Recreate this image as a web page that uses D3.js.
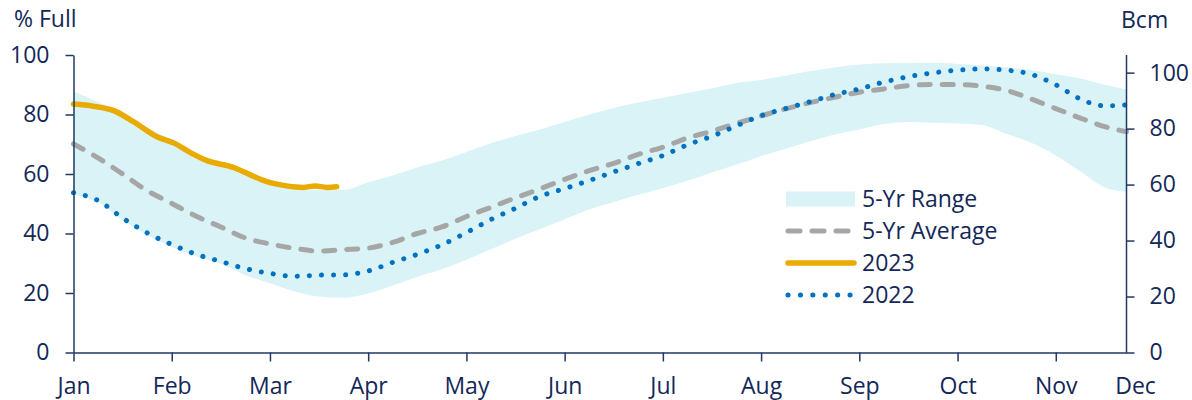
<!DOCTYPE html>
<html>
<head>
<meta charset="utf-8">
<script src="https://cdn.jsdelivr.net/npm/d3@7"></script>
<style>
  body { margin: 0; background: #fff; }
  text { font-family: "Open Sans", "Noto Sans", sans-serif; }
</style>
</head>
<body>
<svg id="chart" width="1192" height="400"></svg>
<script>
var months = ["Jan", "Feb", "Mar", "Apr", "May", "Jun", "Jul", "Aug", "Sep", "Oct", "Nov", "Dec"];

// position in months from 1 Jan (roughly weekly)
var weekPos = [0, 0.25, 0.5, 0.75, 1, 1.25, 1.5, 1.75, 2, 2.25, 2.5, 2.75, 3, 3.25, 3.5, 3.75,
    4, 4.25, 4.5, 4.75, 5, 5.25, 5.5, 5.75, 6, 6.25, 6.5, 6.75, 7, 7.25, 7.5, 7.75,
    8, 8.25, 8.5, 8.75, 9, 9.25, 9.5, 9.75, 10, 10.25, 10.5, 10.72];

var rangeLow = [53.0, 50.5, 44.5, 39.5, 35.5, 32.3, 29.8, 26.0, 23.3, 20.6, 18.8, 18.4, 19.8, 22.5, 25.5, 28.0,
    31.2, 34.7, 38.2, 41.5, 44.8, 48.1, 50.6, 53.0, 55.2, 57.7, 60.5, 63.2, 66.0, 68.5, 71.0, 73.3,
    75.0, 76.8, 77.5, 77.2, 77.0, 76.5, 73.5, 70.5, 66.3, 60.8, 55.5, 54.0];

var rangeHigh = [87.7, 84.2, 80.3, 75.6, 71.5, 67.0, 64.0, 61.0, 57.8, 55.5, 54.5, 54.6, 57.2, 59.5, 62.2, 64.5,
    67.4, 70.3, 72.8, 75.0, 77.5, 80.0, 82.2, 84.0, 85.6, 87.2, 88.8, 90.6, 91.6, 93.0, 94.6, 95.8,
    96.8, 97.2, 97.3, 97.4, 97.0, 96.5, 95.8, 95.0, 93.5, 92.1, 90.0, 88.4];

var avg5 = [70.1, 65.4, 60.0, 54.4, 50.1, 45.8, 42.2, 38.5, 36.5, 35.0, 34.1, 34.6, 35.1, 37.0, 40.0, 42.2,
    45.7, 48.8, 52.0, 55.0, 58.2, 61.1, 63.6, 66.6, 69.0, 72.1, 74.4, 77.0, 79.5, 81.9, 84.0, 85.8,
    87.5, 88.6, 89.7, 90.1, 90.1, 89.5, 88.1, 85.2, 82.0, 78.8, 75.9, 74.2];

var y2022 = [53.7, 51.1, 45.2, 40.2, 36.3, 33.0, 30.6, 28.2, 26.6, 25.6, 26.0, 26.1, 27.4, 30.3, 33.0, 36.2,
    40.3, 44.7, 48.5, 52.5, 55.1, 57.8, 60.7, 63.5, 66.2, 69.8, 72.7, 76.2, 79.6, 82.0, 84.3, 86.7,
    88.6, 90.9, 92.7, 94.0, 94.9, 95.3, 94.9, 93.5, 90.0, 85.2, 82.9, 83.2];

var pos2023 = [0, 0.2, 0.41, 0.61, 0.85, 1.03, 1.19, 1.36, 1.63, 1.8, 1.97, 2.17, 2.34, 2.46, 2.58, 2.68];
var y2023 = [83.5, 82.8, 81.3, 77.6, 72.5, 70.3, 67.2, 64.5, 62.2, 59.7, 57.4, 56.0, 55.5, 56.0, 55.5, 55.7];

var pctTicks = [0, 20, 40, 60, 80, 100];
var bcmTicks = [0, 20, 40, 60, 80, 100];
var legendNames = ["5-Yr Range", "5-Yr Average", "2023", "2022"];

var navy = "#1F3864",
    textColor = "#132858",
    fontSize = 23;

var svg = d3.select("#chart");

var x = d3.scaleLinear().domain([0, 10.72]).range([73.5, 1126.5]);
var y = d3.scaleLinear().domain([0, 100]).range([352.5, 55]);
var yBcm = d3.scaleLinear().domain([0, 106.3]).range([352.5, 55]);

// band
svg.append("path")
    .datum(weekPos)
    .attr("fill", "#D9F3F7")
    .attr("d", d3.area()
        .curve(d3.curveMonotoneX)
        .x(function (d) { return x(d); })
        .y0(function (d, i) { return y(rangeLow[i]); })
        .y1(function (d, i) { return y(rangeHigh[i]); }));

var line = d3.line()
    .curve(d3.curveMonotoneX)
    .x(function (d) { return x(d[0]); })
    .y(function (d) { return y(d[1]); });

svg.append("path")
    .datum(d3.zip(weekPos, avg5))
    .attr("fill", "none")
    .attr("stroke", "#A6A6A6")
    .attr("stroke-width", 5)
    .attr("stroke-linecap", "round")
    .attr("stroke-dasharray", "11,12")
    .attr("d", line);

svg.append("path")
    .datum(d3.zip(pos2023, y2023))
    .attr("fill", "none")
    .attr("stroke", "#E9AB00")
    .attr("stroke-width", 5.5)
    .attr("stroke-linecap", "round")
    .attr("d", line);

svg.append("path")
    .datum(d3.zip(weekPos, y2022))
    .attr("fill", "none")
    .attr("stroke", "#0070C0")
    .attr("stroke-width", 5)
    .attr("stroke-linecap", "round")
    .attr("stroke-dasharray", "0.1,12")
    .attr("d", line);

// axes
var xAxis = svg.append("g")
    .attr("transform", "translate(0," + y(0) + ")")
    .call(d3.axisBottom(x)
        .tickValues(d3.range(0, 11))
        .tickFormat(function (d) { return months[d]; })
        .tickSize(9)
        .tickSizeOuter(0)
        .tickPadding(16));

xAxis.append("text")
    .attr("x", x.range()[1] + 9)
    .attr("y", 25)
    .attr("dy", "0.71em")
    .attr("text-anchor", "middle")
    .text(months[11]);

var leftAxis = svg.append("g")
    .attr("transform", "translate(" + x(0) + ",0)")
    .call(d3.axisLeft(y).tickValues(pctTicks).tickSize(8).tickSizeOuter(0).tickPadding(16));

var rightAxis = svg.append("g")
    .attr("transform", "translate(" + x.range()[1] + ",0)")
    .call(d3.axisRight(yBcm).tickValues(bcmTicks).tickSize(8).tickSizeOuter(0).tickPadding(15));

rightAxis.select(".domain").attr("d", "M0," + yBcm(0) + "V" + yBcm.range()[1]);

[xAxis, leftAxis, rightAxis].forEach(function (a) {
    a.selectAll(".domain, line").attr("stroke", navy).attr("stroke-width", 1.5);
    a.selectAll("text").attr("fill", textColor).attr("font-size", fontSize);
});

svg.append("text")
    .attr("x", 14).attr("y", 27)
    .attr("fill", textColor).attr("font-size", fontSize)
    .text("% Full");

svg.append("text")
    .attr("x", 1121).attr("y", 28)
    .attr("fill", textColor).attr("font-size", fontSize)
    .text("Bcm");

// legend
var tags = svg.append("g")
    .selectAll("g")
    .data(legendNames)
    .enter().append("g")
    .attr("transform", function (d, i) { return "translate(786," + (199 + i * 32) + ")"; });

tags.each(function (d, i) {
    var g = d3.select(this);
    if (i === 0) {
        g.append("rect").attr("x", 0).attr("y", -7.5).attr("width", 69).attr("height", 15).attr("fill", "#D9F3F7");
    } else {
        g.append("line")
            .attr("x1", 2).attr("x2", 68)
            .attr("stroke-width", i === 2 ? 5.5 : 5)
            .attr("stroke-linecap", "round")
            .attr("stroke", ["", "#A6A6A6", "#E9AB00", "#0070C0"][i])
            .attr("stroke-dasharray", ["", "12,12", null, "0.1,12.3"][i]);
    }
});

tags.append("text")
    .attr("x", 76)
    .attr("dy", "0.35em")
    .attr("fill", textColor)
    .attr("font-size", fontSize)
    .text(function (d) { return d; });
</script>
</body>
</html>
